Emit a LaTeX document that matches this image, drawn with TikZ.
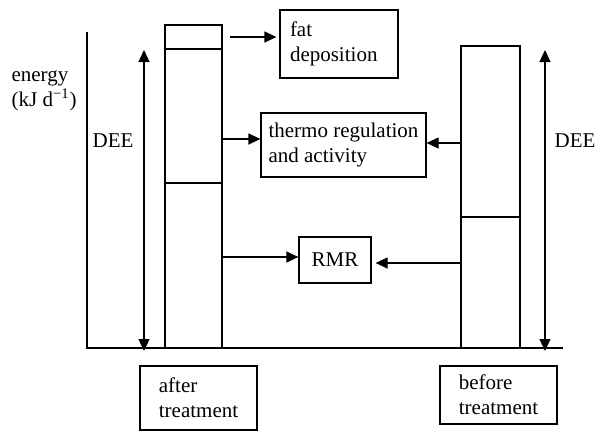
\documentclass[tikz,border=0pt]{standalone}
\usepackage{fontspec}
\setmainfont{Liberation Serif}
\usetikzlibrary{arrows.meta}
\tikzset{
  box/.style={draw, line width=.6pt, inner sep=0pt, align=left, font=\fontsize{10.5}{12.5}\selectfont},
  lbl/.style={box, draw=none},
  tip/.style={-{Triangle[length=6pt,width=5.5pt]}},
  dee/.style={{Triangle[length=6pt,width=5.5pt]}-{Triangle[length=6pt,width=5.5pt]}}
}
\begin{document}
\begin{tikzpicture}[x=.5pt,y=-.5pt,line width=.6pt]
\useasboundingbox (0,0) rectangle (595,430);
\draw (87,32) -- (87,348) -- (563,348);
\node[lbl, anchor=north west] (energy) at (11,70) {energy\\(kJ d\textsuperscript{−1})};
\node[lbl, anchor=base west] (deeL) at (92,147) {DEE};
\node[lbl, anchor=base west] (deeR) at (554,147) {DEE};
\coordinate (lt) at (144,50); \coordinate (lb) at (144,351);
\coordinate (rt) at (545,50); \coordinate (rb) at (545,351);
\draw[dee] (lt) -- (lb);
\draw[dee] (rt) -- (rb);
\draw (165,25) rectangle (222,348);
\draw (165,49) -- (222,49);
\draw (165,183) -- (222,183);
\draw (461,46) rectangle (520,348);
\draw (461,217) -- (520,217);
\node[box, text width=49pt, inner xsep=5pt, minimum height=34pt] (fat) at (339,44) {fat\\deposition};
\node[box, minimum width=82.5pt, minimum height=32pt] (thermo) at (343.5,145) {thermo regulation\\and activity};
\node[box, minimum width=36pt, minimum height=23pt] (rmr) at (335,260) {RMR};
\node[box, minimum width=58.5pt, minimum height=32pt] (after) at (198.5,398) {after\\treatment};
\node[box, minimum width=58.5pt, minimum height=29pt] (before) at (498.5,395) {before\\treatment};
\coordinate (fa) at (230,37);
\coordinate (ta) at (222,139);
\coordinate (ra) at (222,257);
\coordinate (tb) at (461,143);
\coordinate (rbb) at (461,263);
\draw[tip, shorten >=1.5pt] (fa) -- (fa -| fat.west);
\draw[tip] (ta) -- (ta -| thermo.west);
\draw[tip] (ra) -- (ra -| rmr.west);
\draw[tip] (tb) -- (tb -| thermo.east);
\draw[tip, shorten >=2pt] (rbb) -- (rbb -| rmr.east);
\end{tikzpicture}
\end{document}
